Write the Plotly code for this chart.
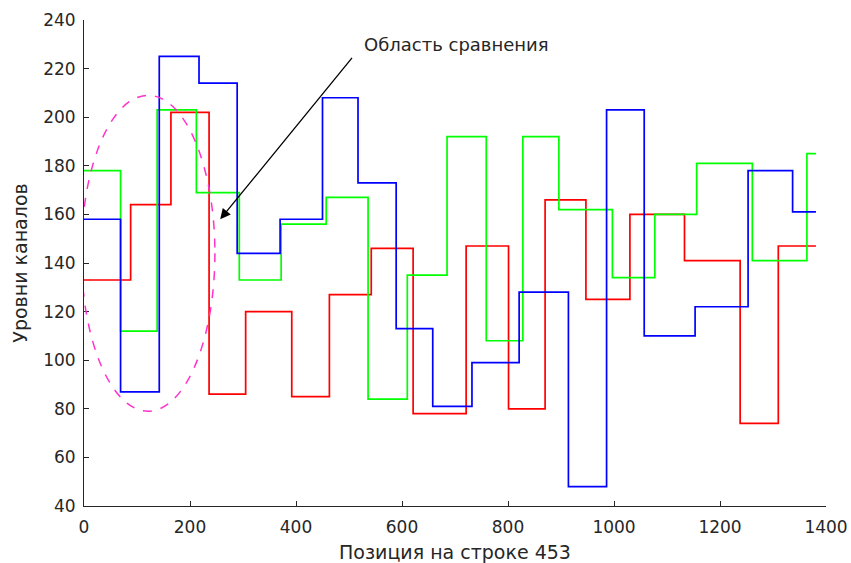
import plotly.graph_objects as go

# Step series: x = start of each step, y = level (last point repeats to close the final step)
blue_x = [0, 69, 142, 217, 289, 370, 450, 517, 589, 658, 732, 821, 914, 986, 1057, 1153, 1253, 1337, 1381]
blue_y = [158, 87, 225, 214, 144, 158, 208, 173, 113, 81, 99, 128, 48, 203, 110, 122, 178, 161, 161]

green_x = [0, 69, 138, 212, 293, 372, 457, 536, 610, 685, 759, 828, 896, 997, 1077, 1156, 1261, 1364, 1381]
green_y = [178, 112, 203, 169, 133, 156, 167, 84, 135, 192, 108, 192, 162, 134, 160, 181, 141, 185, 185]

red_x = [0, 88, 164, 236, 305, 392, 463, 542, 621, 721, 801, 870, 947, 1030, 1133, 1238, 1310, 1381]
red_y = [133, 164, 202, 86, 120, 85, 127, 146, 78, 147, 80, 166, 125, 160, 141, 74, 147, 147]

x_ticks = [0, 200, 400, 600, 800, 1000, 1200, 1400]
y_ticks = [40, 60, 80, 100, 120, 140, 160, 180, 200, 220, 240]

x_title = "Позиция на строке 453"
y_title = "Уровни каналов"
note_text = "Область сравнения"

# Highlight ellipse (data units) and arrow
ellipse = dict(x0=-5, x1=247, y0=79, y1=209)
arrow_tip = (257, 158)
arrow_tail = (508, 225)
note_pos = (525, 230)

TXT = "#262626"
FONT = "DejaVu Sans, Arial, sans-serif"

fig = go.Figure()
for xs, ys, col in [(red_x, red_y, "#FF0000"), (green_x, green_y, "#00FF00"), (blue_x, blue_y, "#0000FF")]:
    fig.add_trace(go.Scatter(x=xs, y=ys, mode="lines", line=dict(color=col, width=1.7, shape="hv"),
                             showlegend=False, hoverinfo="skip"))

fig.add_shape(type="circle", xref="x", yref="y", **ellipse,
              line=dict(color="#FF33CC", width=1.5, dash="dash"))

fig.add_annotation(x=arrow_tip[0], y=arrow_tip[1], ax=arrow_tail[0], ay=arrow_tail[1],
                   xref="x", yref="y", axref="x", ayref="y", text="",
                   showarrow=True, arrowhead=2, arrowsize=1.6, arrowwidth=1.3, arrowcolor="#000000")
fig.add_annotation(x=note_pos[0], y=note_pos[1], xref="x", yref="y", text=note_text,
                   showarrow=False, xanchor="left", yanchor="middle",
                   font=dict(family=FONT, size=18, color=TXT))

axis_common = dict(showgrid=False, zeroline=False, showline=True, linecolor=TXT, linewidth=1,
                   ticks="inside", ticklen=5, tickcolor=TXT, mirror=False, automargin=False,
                   tickfont=dict(family=FONT, size=17, color=TXT),
                   title_font=dict(family=FONT, size=19, color=TXT))

fig.update_xaxes(range=[0, 1400], tickvals=x_ticks, title_text=x_title, title_standoff=11,
                 ticklabelstandoff=6, **axis_common)
fig.update_yaxes(range=[40, 240], tickvals=y_ticks, title_text=y_title, title_standoff=10,
                 ticklabelstandoff=4, **axis_common)

fig.update_layout(width=851, height=563, margin=dict(l=84, r=25, t=20, b=57),
                  plot_bgcolor="white", paper_bgcolor="white")

fig.write_html("out.html")
